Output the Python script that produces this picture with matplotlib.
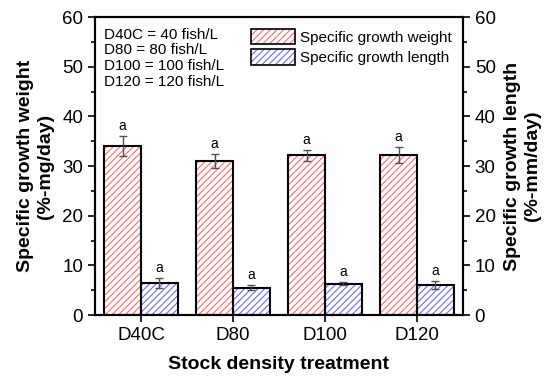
import numpy as np
import matplotlib.pyplot as plt
from matplotlib.patches import Patch
from matplotlib.legend_handler import HandlerTuple
from matplotlib.ticker import MultipleLocator

plt.rcParams['font.family'] = ['Liberation Sans', 'DejaVu Sans']
plt.rcParams['hatch.linewidth'] = 0.8

categories = ["D40C", "D80", "D100", "D120"]
weight = [34.0, 31.1, 32.2, 32.2]
weight_err = [2.0, 1.4, 1.1, 1.6]
length = [6.5, 5.5, 6.3, 6.0]
length_err = [1.0, 0.5, 0.3, 0.8]
weight_sig = ["a", "a", "a", "a"]
length_sig = ["a", "a", "a", "a"]
note_lines = ["D40C = 40 fish/L", "D80 = 80 fish/L", "D100 = 100 fish/L", "D120 = 120 fish/L"]
series_names = ["Specific growth weight", "Specific growth length"]

red = "#ff6b6b"
blue = "#6b6bff"
hatch = "/////"
bw = 0.4

fig = plt.figure(figsize=(5.5, 3.8), dpi=100)
ax = fig.add_axes([0.1727, 0.171, 0.669, 0.784])
x = np.arange(len(categories))

def hatched(ax, xs, vals, color):
    ax.bar(xs, vals, bw, align="edge", color="white", edgecolor=color,
           hatch=hatch, linewidth=0, zorder=2)
    ax.bar(xs, vals, bw, align="edge", fill=False, edgecolor="black",
           linewidth=1.5, zorder=3)

hatched(ax, x - bw, weight, red)
hatched(ax, x, length, blue)
ax.errorbar(x - bw / 2, weight, yerr=weight_err, fmt="none", ecolor="#505050",
            elinewidth=1, capsize=3, zorder=4)
ax.errorbar(x + bw / 2, length, yerr=length_err, fmt="none", ecolor="#505050",
            elinewidth=1, capsize=3, zorder=4)
for i in range(len(categories)):
    ax.text(x[i] - bw / 2, weight[i] + weight_err[i] + 0.6, weight_sig[i],
            ha="center", va="bottom", fontsize=10)
    ax.text(x[i] + bw / 2, length[i] + length_err[i] + 0.6, length_sig[i],
            ha="center", va="bottom", fontsize=10)

ax.set_xlim(-0.5, 3.5)
ax.set_ylim(0, 60)
ax.set_xticks(x)
ax.set_xticklabels(categories)
ax.yaxis.set_major_locator(MultipleLocator(10))
ax.yaxis.set_minor_locator(MultipleLocator(5))
ax.tick_params(axis="both", which="major", direction="out", length=5, width=1.2,
               labelsize=13.5)
ax.tick_params(axis="y", which="minor", direction="out", length=3, width=1.2)
for s in ax.spines.values():
    s.set_linewidth(1.5)

ax2 = ax.twinx()
ax2.set_ylim(0, 60)
ax2.yaxis.set_major_locator(MultipleLocator(10))
ax2.yaxis.set_minor_locator(MultipleLocator(5))
ax2.tick_params(axis="y", which="major", direction="out", length=5, width=1.2,
                labelsize=13.5)
ax2.tick_params(axis="y", which="minor", direction="out", length=3, width=1.2)
for s in ax2.spines.values():
    s.set_linewidth(1.5)

ax.set_xlabel("Stock density treatment", fontsize=14, fontweight="bold", labelpad=9)
ax.set_ylabel("Specific growth weight\n(%-mg/day)", fontsize=14, fontweight="bold",
              linespacing=1.2, labelpad=6)
ax2.set_ylabel("Specific growth length\n(%-mm/day)", fontsize=14, fontweight="bold",
               linespacing=1.2, labelpad=6)

ax.text(0.025, 0.965, "\n".join(note_lines), transform=ax.transAxes,
        ha="left", va="top", fontsize=11, linespacing=1.17)

handles = []
for c in (red, blue):
    handles.append((Patch(facecolor="white", edgecolor=c, hatch=hatch, linewidth=0),
                    Patch(fill=False, edgecolor="black", linewidth=1.2)))
leg = ax.legend(handles, series_names, handler_map={tuple: HandlerTuple(ndivide=1)},
                loc="upper right", bbox_to_anchor=(1.0, 1.0), frameon=False,
                fontsize=11, handlelength=2.9, handleheight=1.2,
                handletextpad=0.3, labelspacing=0.3, borderaxespad=0.35)

fig.savefig("out.png", dpi=100)
